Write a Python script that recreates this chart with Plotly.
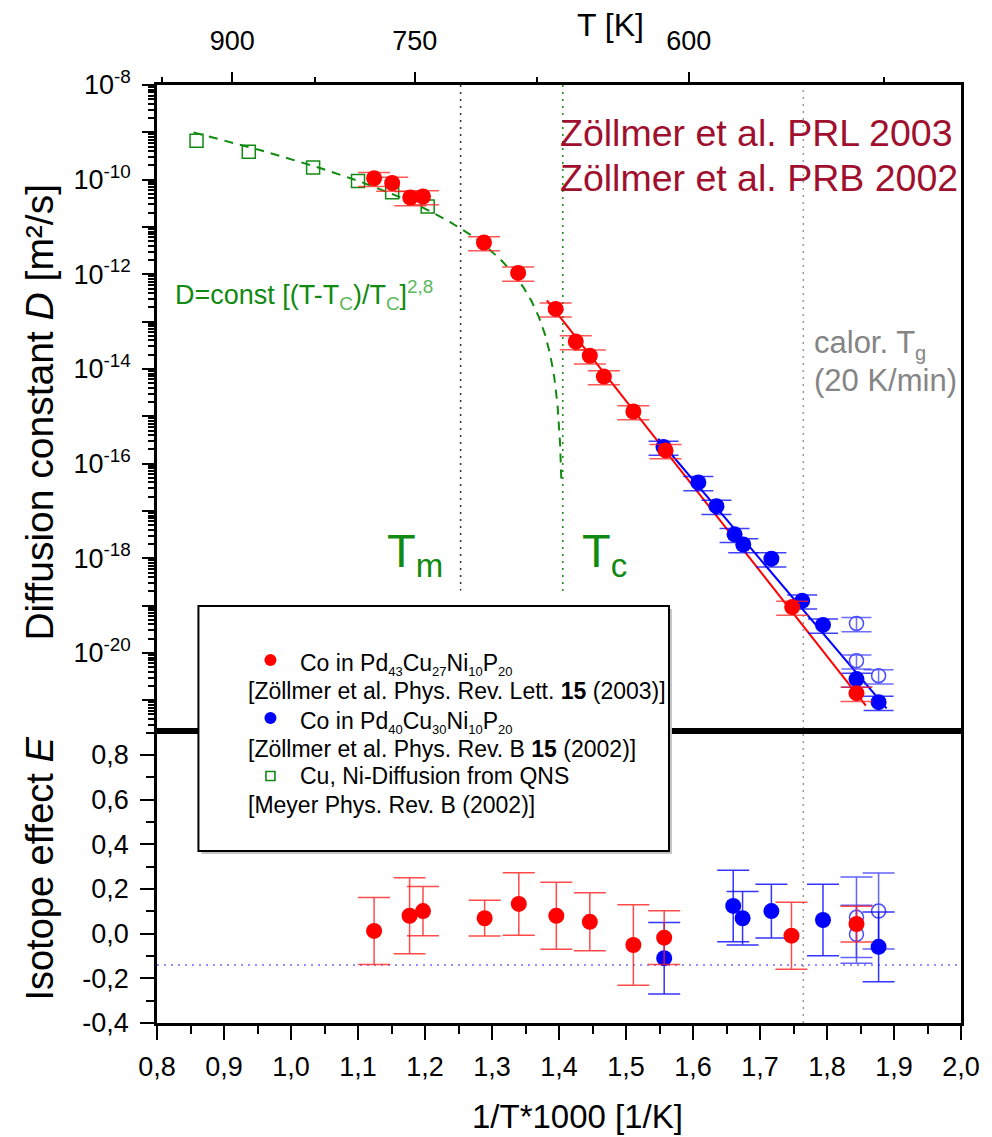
import numpy as np
import plotly.graph_objects as go

# ---------------- data ----------------
# Co in Pd43Cu27Ni10P20 (Zöllmer et al., PRL 2003): 1000/T [1/K], D [m^2/s]
red_invT = [1.124, 1.151, 1.178, 1.197, 1.288, 1.339, 1.395, 1.425, 1.446, 1.467, 1.511, 1.559, 1.748, 1.844]
red_D = [1.07e-10, 8.5e-11, 4.2e-11, 4.4e-11, 4.7e-12, 1.07e-12, 1.86e-13, 3.8e-14, 1.9e-14,
         6.9e-15, 1.26e-15, 1.9e-16, 9.3e-20, 1.41e-21]
# Co in Pd40Cu30Ni10P20 (Zöllmer et al., PRB 2002)
blue_invT = [1.556, 1.608, 1.635, 1.662, 1.675, 1.717, 1.763, 1.794, 1.844, 1.877]
blue_D = [2.24e-16, 4.0e-17, 1.26e-17, 3.2e-18, 1.95e-18, 9.8e-19, 1.26e-19, 3.9e-20, 2.8e-21, 9.1e-22]
blue_open_invT = [1.844, 1.844, 1.877]
blue_open_D = [4.2e-20, 6.8e-21, 3.3e-21]
rel_err_D = 0.33

# Cu, Ni diffusion from QNS (Meyer, PRB 2002)
qns_invT = [0.859, 0.937, 1.033, 1.100, 1.151, 1.204]
qns_D = [6.6e-10, 3.9e-10, 1.8e-10, 9.4e-11, 5.4e-11, 2.7e-11]

# Arrhenius fits (end points)
red_fit_invT = [1.382, 1.858]
red_fit_D = [2.8e-13, 7.7e-22]
blue_fit_invT = [1.548, 1.889]
blue_fit_D = [3.35e-16, 6.7e-22]

# mode-coupling fit D = const [(T-Tc)/Tc]^2.8
mct_const = 3.4e-9
mct_exponent = 2.8
T_melt = 798.0
T_crit = 711.4
T_glass = 566.7

# isotope effect E
red_E_invT = [1.124, 1.177, 1.197, 1.289, 1.340, 1.396, 1.446, 1.511, 1.557, 1.747, 1.844]
red_E = [0.012, 0.080, 0.101, 0.069, 0.133, 0.080, 0.053, -0.051, -0.018, -0.009, 0.043]
red_E_err = [0.15, 0.17, 0.11, 0.08, 0.14, 0.15, 0.13, 0.18, 0.12, 0.15, 0.08]
blue_E_invT = [1.557, 1.660, 1.674, 1.717, 1.794, 1.877]
blue_E = [-0.110, 0.124, 0.069, 0.101, 0.061, -0.059]
blue_E_err = [0.16, 0.16, 0.12, 0.12, 0.16, 0.156]
blue_open_E_invT = [1.844, 1.844, 1.877]
blue_open_E = [0.073, -0.003, 0.101]
blue_open_E_err = [0.18, 0.13, 0.17]
E_reference = -0.14

# axis ticks
x_ticks = [0.8, 0.9, 1.0, 1.1, 1.2, 1.3, 1.4, 1.5, 1.6, 1.7, 1.8, 1.9, 2.0]
E_ticks = [-0.4, -0.2, 0.0, 0.2, 0.4, 0.6, 0.8]
D_exponents = list(range(-21, -7))
T_major = [900, 750, 600]
T_minor = [975, 825, 675, 525]
top_range = [1.0196, 1.998]

# ---------------- layout geometry ----------------
W, H = 992, 1137
L, R, T, B = 157, 972, 85, 1023
split = 731
split_frac = (B - split) / (B - T)


def px_x(p):
    return (p - L) / (R - L)


def px_y(p):
    return (B - p) / (B - T)


FONT = "Liberation Sans, Arial, sans-serif"
RED = "#ff0000"
BLUE = "#0000ff"
GREEN = "#108a10"
LGREEN = "#5cb85c"
WINE = "#a0102e"
GREY = "#858585"

fig = go.Figure()


def comma(v):
    return f"{v:.1f}".replace(".", ",")


# ---------------- upper panel ----------------
T_fit = T_crit + np.geomspace(459.0, 1.0, 300)
D_fit = mct_const * ((T_fit - T_crit) / T_crit) ** mct_exponent
fig.add_trace(go.Scatter(x=1000.0 / T_fit, y=D_fit, mode="lines", xaxis="x2", yaxis="y2",
                         line=dict(color=GREEN, width=2, dash="9px,7px"), hoverinfo="skip"))

# reference temperatures in the upper panel
fig.add_trace(go.Scatter(x=[1000.0 / T_melt] * 2, y=[1e-8, 10 ** -18.68], mode="lines",
                         xaxis="x2", yaxis="y2", line=dict(color="#333333", width=1.5, dash="2px,5px"),
                         hoverinfo="skip"))
fig.add_trace(go.Scatter(x=[1000.0 / T_crit] * 2, y=[1e-8, 10 ** -18.72], mode="lines",
                         xaxis="x2", yaxis="y2", line=dict(color=GREEN, width=1.5, dash="2px,5px"),
                         hoverinfo="skip"))

fig.add_trace(go.Scatter(x=red_fit_invT, y=red_fit_D, mode="lines", xaxis="x2", yaxis="y2",
                         line=dict(color=RED, width=2), hoverinfo="skip"))
fig.add_trace(go.Scatter(x=blue_fit_invT, y=blue_fit_D, mode="lines", xaxis="x2", yaxis="y2",
                         line=dict(color=BLUE, width=2), hoverinfo="skip"))

fig.add_trace(go.Scatter(x=qns_invT, y=qns_D, mode="markers", xaxis="x2", yaxis="y2",
                         marker=dict(symbol="square-open", size=13, color=GREEN, line=dict(width=1.5))))


def err_d(vals):
    return [v * rel_err_D for v in vals]


fig.add_trace(go.Scatter(x=blue_open_invT, y=blue_open_D, mode="markers", xaxis="x2", yaxis="y2",
                         marker=dict(symbol="circle-open", size=14, color="#4b4bff", line=dict(width=1.5)),
                         error_y=dict(type="data", array=err_d(blue_open_D), arrayminus=err_d(blue_open_D),
                                      color="rgba(60,60,255,0.75)", thickness=1.5, width=15)))
fig.add_trace(go.Scatter(x=blue_invT, y=blue_D, mode="markers", xaxis="x2", yaxis="y2",
                         marker=dict(symbol="circle", size=16, color=BLUE),
                         error_y=dict(type="data", array=err_d(blue_D), arrayminus=err_d(blue_D),
                                      color="rgba(0,0,255,0.75)", thickness=1.5, width=15)))
fig.add_trace(go.Scatter(x=red_invT, y=red_D, mode="markers", xaxis="x2", yaxis="y2",
                         marker=dict(symbol="circle", size=16, color=RED),
                         error_y=dict(type="data", array=err_d(red_D), arrayminus=err_d(red_D),
                                      color="rgba(255,30,30,0.75)", thickness=1.5, width=16)))

# empty trace that registers the temperature axis on top
fig.add_trace(go.Scatter(x=[], y=[], xaxis="x3", yaxis="y2", mode="markers", hoverinfo="skip"))

# ---------------- lower panel ----------------
fig.add_trace(go.Scatter(x=blue_open_E_invT, y=blue_open_E, mode="markers", xaxis="x", yaxis="y",
                         marker=dict(symbol="circle-open", size=14, color="#4b4bff", line=dict(width=1.5)),
                         error_y=dict(type="data", array=blue_open_E_err, color="rgba(60,60,255,0.8)",
                                      thickness=1.5, width=16)))
fig.add_trace(go.Scatter(x=blue_E_invT, y=blue_E, mode="markers", xaxis="x", yaxis="y",
                         marker=dict(symbol="circle", size=16, color=BLUE),
                         error_y=dict(type="data", array=blue_E_err, color="rgba(0,0,255,0.8)",
                                      thickness=1.5, width=16)))
fig.add_trace(go.Scatter(x=red_E_invT, y=red_E, mode="markers", xaxis="x", yaxis="y",
                         marker=dict(symbol="circle", size=16, color=RED),
                         error_y=dict(type="data", array=red_E_err, color="rgba(255,30,30,0.8)",
                                      thickness=1.5, width=16)))

# ---------------- shapes ----------------
shapes = [
    # calorimetric Tg through both panels
    dict(type="line", xref="x", yref="paper", x0=1000.0 / T_glass, x1=1000.0 / T_glass, y0=0, y1=1,
         line=dict(color="#999999", width=1.5, dash="2px,5px"), layer="below"),
    # reference line of the isotope effect
    dict(type="line", xref="paper", yref="y", x0=0, x1=1, y0=E_reference, y1=E_reference,
         line=dict(color="#6b6bff", width=1.5, dash="2px,5px"), layer="below"),
    # legend frame with shadow
    dict(type="rect", xref="paper", yref="paper", x0=px_x(202), x1=px_x(679), y0=px_y(854), y1=px_y(609),
         fillcolor="#c4c4c4", line=dict(width=0), layer="above"),
    dict(type="rect", xref="paper", yref="paper", x0=px_x(199), x1=px_x(676), y0=px_y(851), y1=px_y(606),
         fillcolor="white", line=dict(color="black", width=2), layer="above"),
]


def glyph(kind, cx, cy, color, r):
    base = dict(xref="paper", yref="paper", xsizemode="pixel", ysizemode="pixel",
                xanchor=px_x(cx), yanchor=px_y(cy), x0=-r, x1=r, y0=-r, y1=r, layer="above")
    if kind == "circle":
        base.update(type="circle", fillcolor=color, line=dict(width=0))
    else:
        base.update(type="rect", fillcolor="white", line=dict(color=color, width=1.6))
    return base


shapes += [glyph("circle", 272, 660, RED, 6),
           glyph("circle", 272, 718, BLUE, 6),
           glyph("rect", 272, 776, GREEN, 4.5)]

# ---------------- annotations ----------------
ann = []


def text(s, x, y, size, color="black", xanchor="left", yanchor="middle", angle=0):
    ann.append(dict(text=s, x=px_x(x), y=px_y(y), xref="paper", yref="paper", showarrow=False,
                    xanchor=xanchor, yanchor=yanchor, textangle=angle,
                    font=dict(family=FONT, size=size, color=color)))


def sub(s, size=13):
    return f"<sub><span style='font-size:{size}px'>{s}</span></sub>"


text("T [K]", 617, 25, 32, xanchor="center")
text("1/T*1000 [1/K]", 583, 1116, 33, xanchor="center")
text("Diffusion constant <i>D</i> [m²/s]", 38, 412, 39, xanchor="center", angle=-90)
text("Isotope effect <i>E</i>", 38, 869, 38, xanchor="center", angle=-90)

text("Zöllmer et al. PRL 2003", 563, 133, 37.5, WINE)
text("Zöllmer et al. PRB 2002", 563, 178, 37.5, WINE)

text("calor. T" + sub("g", 20), 821, 344, 31, GREY)
text("(20 K/min)", 821, 380, 31, GREY)

text("D=const [(T-T<sub><span style='color:%s'>C</span></sub>)/T<sub><span style='color:%s'>C</span></sub>]"
     "<sup><span style='color:%s'>2,8</span></sup>" % (LGREEN, LGREEN, LGREEN), 173, 295, 27, GREEN)

text("T" + sub("m", 33), 388, 554, 47, GREEN)
text("T" + sub("c", 33), 586, 554, 47, GREEN)

text("Co in Pd" + sub("43") + "Cu" + sub("27") + "Ni" + sub("10") + "P" + sub("20"), 300, 664, 23)
text("[Zöllmer et al. Phys. Rev. Lett. <b>15</b> (2003)]", 247, 691, 23)
text("Co in Pd" + sub("40") + "Cu" + sub("30") + "Ni" + sub("10") + "P" + sub("20"), 300, 722, 23)
text("[Zöllmer et al. Phys. Rev. B <b>15</b> (2002)]", 247, 749, 23)
text("Cu, Ni-Diffusion from QNS", 300, 776, 23)
text("[Meyer Phys. Rev. B (2002)]", 247, 805, 23)

# ---------------- axes ----------------
tickfont = dict(family=FONT, size=27, color="black")
axis_common = dict(showgrid=False, zeroline=False, showline=True, linecolor="black", linewidth=2.5,
                   mirror=True, tickcolor="black", tickwidth=2, tickfont=tickfont)

minor_D = [k * 10.0 ** e for e in range(-22, -8) for k in range(2, 10)]

fig.update_layout(
    width=W, height=H,
    margin=dict(l=L, r=W - R, t=T, b=H - B, pad=0),
    paper_bgcolor="white", plot_bgcolor="white",
    showlegend=False,
    font=dict(family=FONT),
    xaxis=dict(axis_common, range=[0.8, 2.0], anchor="y", side="bottom",
               tickmode="array", tickvals=x_ticks, ticktext=[comma(v) for v in x_ticks],
               ticks="outside", ticklen=14, ticklabelstandoff=4,
               minor=dict(ticks="outside", dtick=0.05, tick0=0.8, ticklen=8, tickwidth=2, tickcolor="black")),
    yaxis=dict(axis_common, domain=[0, split_frac], range=[-0.4, 0.907], anchor="x",
               tickmode="array", tickvals=E_ticks, ticktext=[comma(v) for v in E_ticks],
               ticks="outside", ticklen=14, ticklabelstandoff=6,
               minor=dict(ticks="outside", dtick=0.1, tick0=-0.4, ticklen=8, tickwidth=2, tickcolor="black")),
    xaxis2=dict(axis_common, matches="x", anchor="y2", showticklabels=False, ticks=""),
    yaxis2=dict(axis_common, type="log", domain=[split_frac, 1], range=[-21.65, -8], anchor="x2",
                tickmode="array", tickvals=[10.0 ** e for e in D_exponents],
                ticktext=[f"10<sup>{e}</sup>" if e % 2 == 0 else "" for e in D_exponents],
                ticks="outside", ticklen=12, ticklabelstandoff=6,
                minor=dict(ticks="outside", tickvals=minor_D, ticklen=6, tickwidth=1.5, tickcolor="black")),
    xaxis3=dict(overlaying="x2", anchor="y2", side="top", range=top_range, showgrid=False, zeroline=False,
                showline=False, tickmode="array", tickvals=[1000.0 / t for t in T_major],
                ticktext=[str(t) for t in T_major], ticks="outside", ticklen=12, tickwidth=2,
                tickcolor="black", tickfont=tickfont, ticklabelstandoff=11,
                minor=dict(ticks="outside", tickvals=[1000.0 / t for t in T_minor], ticklen=7,
                           tickwidth=2, tickcolor="black")),
    shapes=shapes,
    annotations=ann,
)

fig.write_html("out.html")
